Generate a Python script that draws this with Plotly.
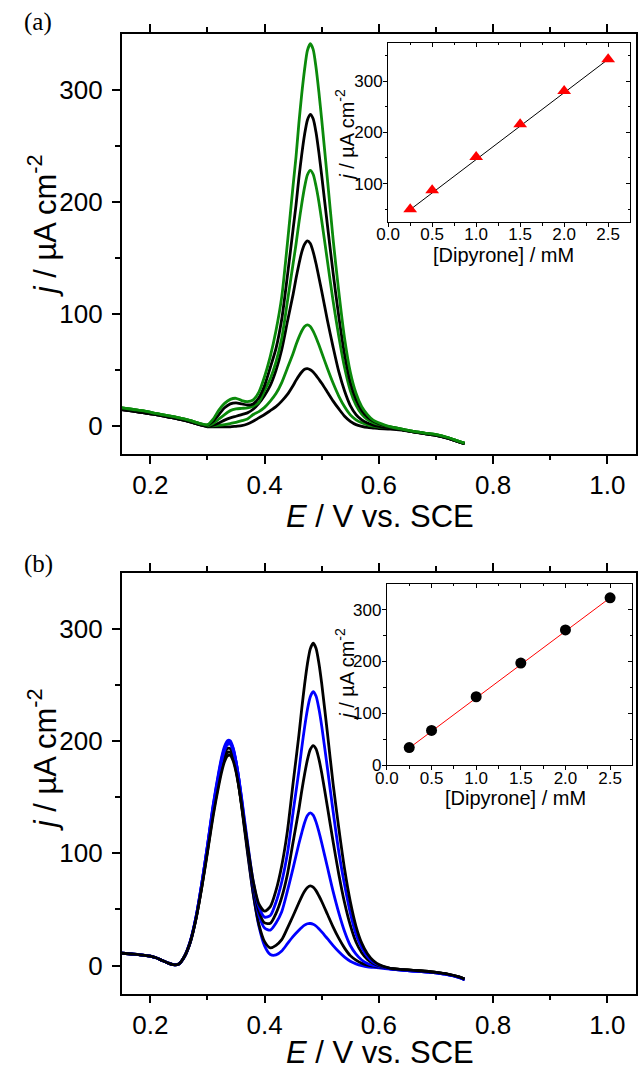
import plotly.graph_objects as go

# ======================= DATA =======================
# ---- Panel (a): voltammograms (E / V vs SCE, j / uA cm-2) ----
E_a = [0.15, 0.17, 0.19, 0.21, 0.23, 0.25, 0.27, 0.29,
       0.30, 0.31, 0.32, 0.33, 0.34, 0.35, 0.36, 0.37, 0.38, 0.39, 0.40, 0.41, 0.42, 0.43, 0.44, 0.45,
       0.455, 0.46, 0.465, 0.47, 0.475, 0.48, 0.485, 0.49, 0.495, 0.50,
       0.51, 0.52, 0.53, 0.54, 0.55, 0.56, 0.57, 0.58, 0.59, 0.60,
       0.62, 0.64, 0.66, 0.68, 0.70, 0.72, 0.74, 0.75]

ja_left_green = [16, 14.5, 13, 11, 9, 7, 4.5, 1.5]
ja_left_black = [14.5, 13, 11.5, 10, 8, 6, 3.5, 0.5]
ja_tail_green = [-1, -3, -5, -6.5, -8, -10.5, -14, -15.5]
ja_tail_black = [-1.5, -3.5, -5.5, -7, -8.5, -11, -14.5, -16]
ja_tail_low = [-3, -4, -5.5, -7, -8.5, -11, -14.5, -16]

ja_mid_025 = [-1, -1, -1, -1, -1, -0.5, 0, 1.5, 4, 7, 10, 13.5, 17, 22, 28, 36,
              40.5, 44.5, 48, 50.5, 51, 50, 48, 45, 41.5, 38,
              30, 22, 15, 8.5, 4, 1, -0.5, -1.5, -2, -2.5]
ja_mid_05 = [0, 0, 0.5, 1, 2, 3, 4.5, 6, 10, 12.6, 16.4, 22, 28.7, 38.5, 51.5, 64.7,
             72.3, 78.9, 84.6, 88.5, 90, 88.5, 84.5, 78.8, 72.2, 65.2,
             51.1, 37.9, 26.3, 16.9, 9.7, 5.3, 2.6, 0.8, -0.4, -1.2]
ja_mid_10 = [-0.5, 0.5, 2.5, 5, 7, 8.5, 10, 11.5, 14.7, 20, 27, 36, 49.5, 68, 93, 117.5,
             131.4, 144, 155, 162, 165, 162.6, 155.3, 144.8, 132.6, 120,
             94, 70, 48, 31, 18, 10, 5.2, 2.4, 0.6, -0.5]
ja_mid_15 = [0, 2, 6, 10, 13.5, 15, 15.5, 16, 17.5, 21, 31.5, 42, 57, 78, 111, 145,
             162, 181, 198, 213, 224, 228, 224.5, 214, 200, 183,
             147, 111, 79.5, 52, 31.5, 18.4, 10.3, 5.4, 2.7, 1.1]
ja_mid_20 = [0.5, 4, 10, 16, 19.5, 20.5, 19.5, 18.5, 19.5, 25, 36, 52, 69, 95, 134, 176,
             197, 221, 242, 260, 273, 278, 274, 262, 244, 223,
             179, 136, 97, 64, 39, 23.5, 13.7, 7.8, 4.2, 1.8]
ja_mid_25 = [1, 6, 14, 20, 23.5, 24.5, 22.5, 21.5, 23, 30, 44, 62, 85, 115, 163, 215,
             240, 270, 296, 318, 335, 341, 336, 320, 298, 273,
             220, 166, 119, 78, 48, 29, 17, 10, 5, 2.6]

# inset (a): peak current vs concentration
conc_a = [0.25, 0.5, 1.0, 1.5, 2.0, 2.5]
jpk_a = [50, 87, 152, 216, 281, 343]
fit_a_x = [0.25, 2.5]
fit_a_y = [49, 343]

# ---- Panel (b) ----
E_b = [0.15, 0.17, 0.19, 0.20, 0.21, 0.22, 0.23, 0.24,
       0.25, 0.26, 0.27, 0.28, 0.29, 0.30, 0.31, 0.32,
       0.325, 0.33, 0.335, 0.34, 0.345, 0.35, 0.355, 0.36,
       0.37, 0.38, 0.39, 0.40, 0.41, 0.42, 0.43, 0.44, 0.45, 0.46,
       0.465, 0.47, 0.475, 0.48, 0.485, 0.49, 0.495, 0.50,
       0.51, 0.52, 0.53, 0.54, 0.55, 0.56, 0.57, 0.58, 0.59, 0.60,
       0.62, 0.64, 0.66, 0.68, 0.70, 0.72, 0.74, 0.75]

jb_left = [11, 10.2, 9.2, 8.5, 7, 4.8, 2.6, 0.8]
jb_tail_black = [-2.5, -3.5, -4.2, -5, -6, -7.5, -10, -12]
jb_tail_blue = [-3, -4, -4.8, -5.5, -6.5, -8, -10.5, -12.5]

jb_mid_025 = [1.5, 8, 21, 43, 73, 107, 143, 173,
              186, 195.4, 200.4, 200.2, 194, 182, 165.6, 145.8,
              103.5, 64.9, 35.3, 17.6, 9.9, 9.5, 13, 19.5, 26, 31.5,
              34, 36, 37.3, 37.5, 36.9, 35.3, 32.9, 30.1,
              24, 17.8, 12.3, 7.5, 3.9, 1.6, 0, -1.1, -1.6, -2.1]
jb_mid_05 = [1.5, 7.9, 20.5, 41.8, 70.6, 103.4, 138, 167,
             179.4, 188.5, 193.3, 193.2, 187.3, 175.9, 160.2, 141.2,
             101.2, 64.3, 36.8, 21.4, 15.9, 18.1, 23.1, 33.4, 44.4, 56,
             61.5, 66.3, 69.6, 71, 69.9, 66.8, 62.2, 57.1,
             45.7, 34.3, 24.2, 15.6, 8.9, 4.9, 2.1, 0.5, -0.5, -1.2]
jb_mid_10 = [1.5, 8.3, 21.5, 43.3, 72.8, 106.5, 141.9, 171.5,
             184.2, 193.7, 198.7, 198.8, 193.1, 181.8, 166.2, 147.5,
             107, 70.2, 45, 33.5, 31.6, 38, 48, 66.5, 87, 108.5,
             118.3, 127.3, 133.7, 136.1, 134, 128, 119.3, 109.2,
             87.6, 65.9, 46.8, 30.4, 17.9, 10.2, 5, 1.9, 0.2, -0.8]
jb_mid_15 = [1.4, 8.2, 20.9, 41.7, 69.8, 101.8, 135.4, 163.6,
             175.8, 184.7, 189.8, 189.9, 184.6, 174, 159.6, 142.1,
             104.6, 71.5, 48.3, 38, 37.7, 46.5, 60.8, 81.4, 110.4, 139,
             155.6, 170.4, 183.4, 192.5, 196, 193, 184.1, 171.5,
             141.3, 110.1, 81, 56, 36, 21, 11.5, 5.5, 2, 0]
jb_mid_20 = [1.4, 8.7, 22, 43.6, 72.6, 105.9, 140.5, 169.7,
             182.4, 191.7, 196.8, 197.2, 191.8, 181.2, 166.3, 148.7,
             110.5, 75.1, 52.5, 43.2, 44.6, 56.5, 74.5, 100, 137, 173.2,
             193.7, 212.2, 228.2, 239.5, 243.9, 240.1, 229, 213.3,
             175.8, 137, 101, 72, 47, 28, 16, 8, 3.2, 0.5]
jb_mid_25 = [1.4, 8.6, 21.4, 41.9, 69.3, 100.7, 133.3, 160.9,
             172.8, 181.7, 186.7, 187.2, 182.4, 172.7, 159.1, 142.9,
             108, 75.5, 55, 48.5, 52.5, 67, 89, 120, 163, 205,
             228.6, 250.2, 268.9, 282.1, 287.2, 282.7, 269.6, 251.1,
             207, 161.4, 122, 86, 57, 35, 20, 10.5, 4.5, 1]

# inset (b)
conc_b = [0.25, 0.5, 1.0, 1.5, 2.0, 2.5]
jpk_b = [34, 67, 132, 197, 261, 323]
fit_b_x = [0.25, 2.5]
fit_b_y = [33, 323]

X_MAIN_TICKS = [0.2, 0.4, 0.6, 0.8, 1.0]
X_MAIN_MINOR = [0.3, 0.5, 0.7, 0.9]
Y_MAIN_TICKS = [0, 100, 200, 300]
Y_MAIN_MINOR = [50, 150, 250]
X_INS_TICKS = [0.0, 0.5, 1.0, 1.5, 2.0, 2.5]
X_INS_MINOR = [0.25, 0.75, 1.25, 1.75, 2.25]

# ======================= STYLE / LAYOUT =======================
W, H = 638, 1077
def px(X): return X / W
def py(Y): return 1 - Y / H

GREEN = '#0b8a0b'
BLUE = '#0000ff'
BLACK = '#000000'
SANS = 'Liberation Sans, Arial, sans-serif'
SERIF = 'Liberation Serif, Times New Roman, serif'

fig = go.Figure()

curves_a = [
    (ja_left_black + ja_mid_025 + ja_tail_low, BLACK),
    (ja_left_green + ja_mid_05 + ja_tail_green, GREEN),
    (ja_left_black + ja_mid_10 + ja_tail_black, BLACK),
    (ja_left_green + ja_mid_15 + ja_tail_green, GREEN),
    (ja_left_black + ja_mid_20 + ja_tail_black, BLACK),
    (ja_left_green + ja_mid_25 + ja_tail_green, GREEN),
]
for ys, col in curves_a:
    fig.add_trace(go.Scatter(x=E_a, y=ys, mode='lines', xaxis='x', yaxis='y',
                             line=dict(color=col, width=2.8, shape='spline', smoothing=0.7),
                             showlegend=False, hoverinfo='skip'))

curves_b = [
    (jb_left + jb_mid_025 + jb_tail_blue, BLUE),
    (jb_left + jb_mid_05 + jb_tail_black, BLACK),
    (jb_left + jb_mid_10 + jb_tail_blue, BLUE),
    (jb_left + jb_mid_15 + jb_tail_black, BLACK),
    (jb_left + jb_mid_20 + jb_tail_blue, BLUE),
    (jb_left + jb_mid_25 + jb_tail_black, BLACK),
]
for ys, col in curves_b:
    fig.add_trace(go.Scatter(x=E_b, y=ys, mode='lines', xaxis='x3', yaxis='y3',
                             line=dict(color=col, width=2.8, shape='spline', smoothing=0.7),
                             showlegend=False, hoverinfo='skip'))

# insets
fig.add_trace(go.Scatter(x=fit_a_x, y=fit_a_y, mode='lines', xaxis='x2', yaxis='y2',
                         line=dict(color='black', width=1), showlegend=False, hoverinfo='skip'))
fig.add_trace(go.Scatter(x=conc_a, y=jpk_a, mode='markers', xaxis='x2', yaxis='y2',
                         marker=dict(symbol='triangle-up', size=12, color='#ff0000', line=dict(width=0)),
                         showlegend=False))
fig.add_trace(go.Scatter(x=fit_b_x, y=fit_b_y, mode='lines', xaxis='x4', yaxis='y4',
                         line=dict(color='#ff0000', width=1), showlegend=False, hoverinfo='skip'))
fig.add_trace(go.Scatter(x=conc_b, y=jpk_b, mode='markers', xaxis='x4', yaxis='y4',
                         marker=dict(symbol='circle', size=11, color='black', line=dict(width=0)),
                         showlegend=False))
# empty traces that activate the inward-tick top/right axes of the insets
fig.add_trace(go.Scatter(x=[None], y=[None], xaxis='x5', yaxis='y5', showlegend=False, hoverinfo='skip'))
fig.add_trace(go.Scatter(x=[None], y=[None], xaxis='x6', yaxis='y6', showlegend=False, hoverinfo='skip'))

MAIN_FONT = dict(family=SANS, size=26, color='black')
INS_FONT = dict(family=SANS, size=17, color='black')


def main_x(domain, anchor):
    return dict(domain=domain, anchor=anchor, range=[0.15, 1.05],
                tickmode='array', tickvals=X_MAIN_TICKS, ticktext=[f'{v:.1f}' for v in X_MAIN_TICKS],
                showline=True, linecolor='black', linewidth=1.6, mirror='ticks',
                ticks='outside', ticklen=8, tickwidth=1.6, tickcolor='black',
                minor=dict(tickmode='array', tickvals=X_MAIN_MINOR, ticks='outside', ticklen=4.5,
                           tickwidth=1.6, tickcolor='black', showgrid=False),
                showgrid=False, zeroline=False, fixedrange=True, ticklabelstandoff=-1,
                tickfont=MAIN_FONT)


def main_y(domain, anchor):
    return dict(domain=domain, anchor=anchor, range=[-25, 350],
                tickmode='array', tickvals=Y_MAIN_TICKS, ticktext=[str(v) for v in Y_MAIN_TICKS],
                showline=True, linecolor='black', linewidth=1.6, mirror=True,
                ticks='outside', ticklen=8, tickwidth=1.6, tickcolor='black',
                minor=dict(tickmode='array', tickvals=Y_MAIN_MINOR, ticks='outside', ticklen=4.5,
                           tickwidth=1.6, tickcolor='black', showgrid=False),
                showgrid=False, zeroline=False, fixedrange=True, ticklabelstandoff=4,
                tickfont=MAIN_FONT)


def ins_x(domain, anchor):
    return dict(domain=domain, anchor=anchor, range=[0, 2.75],
                tickmode='array', tickvals=X_INS_TICKS, ticktext=[f'{v:.1f}' for v in X_INS_TICKS],
                showline=True, linecolor='black', linewidth=1.2, mirror=True,
                ticks='outside', ticklen=4, tickwidth=1.1, tickcolor='black',
                minor=dict(tickmode='array', tickvals=X_INS_MINOR, ticks='outside', ticklen=2.5,
                           tickwidth=1.1, tickcolor='black', showgrid=False),
                showgrid=False, zeroline=False, fixedrange=True, ticklabelstandoff=-7,
                tickfont=INS_FONT)


def ins_y(domain, anchor, rng, tv, mv):
    return dict(domain=domain, anchor=anchor, range=rng,
                tickmode='array', tickvals=tv, ticktext=[str(v) for v in tv],
                showline=True, linecolor='black', linewidth=1.2, mirror=True,
                ticks='outside', ticklen=4, tickwidth=1.1, tickcolor='black',
                minor=dict(tickmode='array', tickvals=mv, ticks='outside', ticklen=2.5,
                           tickwidth=1.1, tickcolor='black', showgrid=False),
                showgrid=False, zeroline=False, fixedrange=True, ticklabelstandoff=-3,
                tickfont=INS_FONT)


def mirror_x(domain, anchor):
    return dict(domain=domain, anchor=anchor, side='top', range=[0, 2.75],
                tickmode='array', tickvals=X_INS_TICKS, showticklabels=False,
                ticks='inside', ticklen=4, tickwidth=1.1, tickcolor='black',
                minor=dict(tickmode='array', tickvals=X_INS_MINOR, ticks='inside', ticklen=2.5,
                           tickwidth=1.1, tickcolor='black'),
                showline=False, showgrid=False, zeroline=False, fixedrange=True)


def mirror_y(domain, anchor, rng, tv, mv):
    return dict(domain=domain, anchor=anchor, side='right', range=rng,
                tickmode='array', tickvals=tv, showticklabels=False,
                ticks='inside', ticklen=4, tickwidth=1.1, tickcolor='black',
                minor=dict(tickmode='array', tickvals=mv, ticks='inside', ticklen=2.5,
                           tickwidth=1.1, tickcolor='black'),
                showline=False, showgrid=False, zeroline=False, fixedrange=True)


XD = [px(112), px(637)]
YA = [py(458), py(34)]
YB = [py(1003), py(578)]
XIA = [px(384), px(631)]
YIA = [py(224), py(43.3)]
XIB = [px(382.7), px(633.3)]
YIB = [py(772.3), py(589.3)]

ya_rng, ya_tv, ya_mv = [25, 375], [100, 200, 300], [50, 150, 250, 350]
yb_rng, yb_tv, yb_mv = [0, 350], [0, 100, 200, 300], [50, 150, 250]

jtitle = '<i>j</i> / µA cm<sup>-2</sup>'
etitle = '<i>E</i> / V vs. SCE'

ann = []
def add_text(text, X, Y, size, family=SANS, angle=0):
    ann.append(dict(text=text, x=px(X), y=py(Y), xref='paper', yref='paper',
                    xanchor='center', yanchor='middle', showarrow=False, textangle=angle,
                    font=dict(family=family, size=size, color='black')))

add_text('(a)', 27, 22, 25, SERIF)
add_text('(b)', 27, 569, 25, SERIF)
add_text(etitle, 376, 521, 31)
add_text(etitle, 376, 1062, 31)
add_text(jtitle, 31, 228, 31, angle=-90)
add_text(jtitle, 31, 767, 31, angle=-90)
add_text('[Dipyrone] / mM', 502, 257, 20)
add_text('[Dipyrone] / mM', 514, 805, 20)
add_text(jtitle, 340, 137, 20, angle=-90)
add_text(jtitle, 340, 681, 20, angle=-90)

fig.update_layout(
    width=W, height=H, margin=dict(l=0, r=0, t=0, b=0),
    paper_bgcolor='white', plot_bgcolor='rgba(0,0,0,0)', showlegend=False,
    xaxis=main_x(XD, 'y'), yaxis=main_y(YA, 'x'),
    xaxis3=main_x(XD, 'y3'), yaxis3=main_y(YB, 'x3'),
    xaxis2=ins_x(XIA, 'y2'), yaxis2=ins_y(YIA, 'x2', ya_rng, ya_tv, ya_mv),
    xaxis4=ins_x(XIB, 'y4'), yaxis4=ins_y(YIB, 'x4', yb_rng, yb_tv, yb_mv),
    xaxis5=mirror_x(XIA, 'y5'), yaxis5=mirror_y(YIA, 'x5', ya_rng, ya_tv, ya_mv),
    xaxis6=mirror_x(XIB, 'y6'), yaxis6=mirror_y(YIB, 'x6', yb_rng, yb_tv, yb_mv),
    annotations=ann,
)

fig.write_html("out.html", config={'displayModeBar': False},
               post_script=("document.documentElement.style.margin='0';"
                            "document.body.style.margin='0';"
                            "document.body.style.padding='0';"))
